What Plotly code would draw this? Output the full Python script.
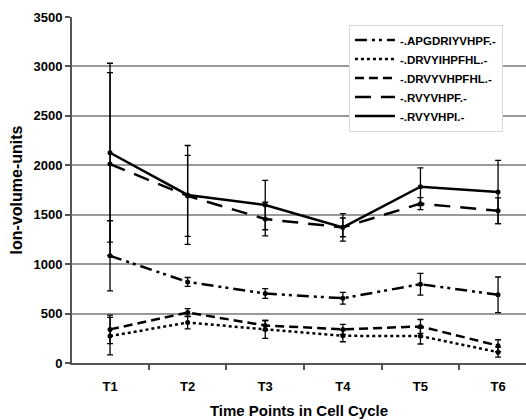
import plotly.graph_objects as go

categories = ["T1", "T2", "T3", "T4", "T5", "T6"]

series_names = ["-.APGDRIYVHPF.-", "-.DRVYIHPFHL.-", "-.DRVYVHPFHL.-", "-.RVYVHPF.-", "-.RVYVHPI.-"]

apgdriyvhpf = [1084, 820, 703, 655, 797, 690]
apgdriyvhpf_err = [355, 45, 50, 60, 110, 180]

drvyihpfhl = [272, 410, 340, 275, 272, 110]
drvyihpfhl_err = [190, 65, 90, 60, 80, 50]

drvyvhpfhl = [340, 510, 380, 340, 370, 175]
drvyvhpfhl_err = [144, 40, 50, 50, 70, 60]

rvyvhpf = [2012, 1690, 1456, 1372, 1612, 1540]
rvyvhpf_err = [925, 410, 170, 95, 60, 130]

rvyvhpi = [2127, 1700, 1598, 1372, 1783, 1730]
rvyvhpi_err = [905, 500, 250, 140, 190, 320]

values = [apgdriyvhpf, drvyihpfhl, drvyvhpfhl, rvyvhpf, rvyvhpi]
errors = [apgdriyvhpf_err, drvyihpfhl_err, drvyvhpfhl_err, rvyvhpf_err, rvyvhpi_err]
dashes = ["12px,5px,3px,4px,3px,5px", "3px,3px", "9px,5px", "16px,10px", "solid"]

FONT = "Liberation Sans, Arial, sans-serif"

fig = go.Figure()
for name, vals, errs, dash in zip(series_names, values, errors, dashes):
    fig.add_trace(go.Scatter(
        x=categories, y=vals, name=name, mode="lines",
        line=dict(color="black", width=2.5, dash=dash),
        legendgroup=name,
    ))
    fig.add_trace(go.Scatter(
        x=categories, y=vals, name=name, mode="markers",
        marker=dict(color="black", size=5, symbol="circle"),
        error_y=dict(type="data", array=errs, visible=True, color="black",
                     thickness=1.3, width=3),
        legendgroup=name, showlegend=False,
    ))

fig.update_layout(
    width=526, height=420,
    margin=dict(l=72, r=0, t=17, b=57),
    paper_bgcolor="white", plot_bgcolor="white",
    font=dict(family=FONT, color="black", size=12, weight="bold"),
    showlegend=True,
    legend=dict(
        x=0.61, y=0.978, xanchor="left", yanchor="top",
        bgcolor="white", bordercolor="#d8d8d8", borderwidth=1,
        font=dict(family=FONT, size=11.5, color="black", weight="bold"),
        tracegroupgap=0, itemwidth=40,
    ),
    xaxis=dict(
        type="category", range=[-0.49, 5.36],
        showline=True, linecolor="#555", linewidth=2,
        ticks="outside", ticklen=5, tickcolor="#555", tickwidth=2,
        tickson="boundaries", showgrid=False, ticklabelstandoff=10,
        tickfont=dict(family=FONT, size=13, weight="bold"),
        title=dict(text="Time Points in Cell Cycle", standoff=13,
                   font=dict(family=FONT, size=15, weight="bold")),
        zeroline=False,
    ),
    yaxis=dict(
        range=[0, 3500], dtick=500, tick0=0,
        showline=True, linecolor="#555", linewidth=2,
        ticks="outside", ticklen=5, tickcolor="#555", tickwidth=2,
        showgrid=True, gridcolor="#999", gridwidth=1.5,
        tickfont=dict(family=FONT, size=13, weight="bold"),
        title=dict(text="Ion-volume-units", standoff=7,
                   font=dict(family=FONT, size=16, weight="bold")),
        zeroline=False,
    ),
)

fig.write_html("out.html")
